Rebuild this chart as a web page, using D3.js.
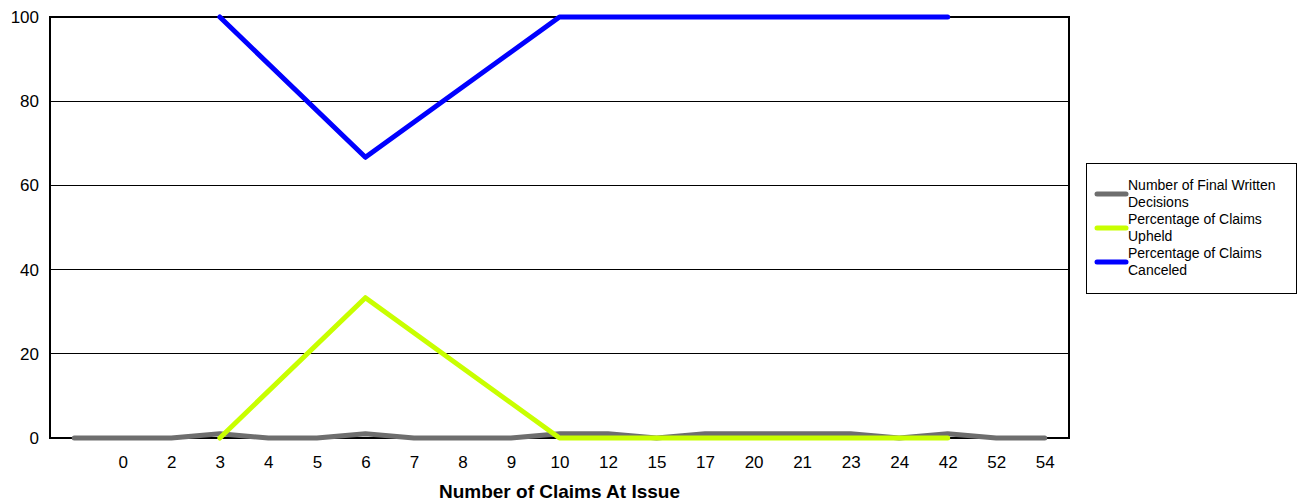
<!DOCTYPE html>
<html>
<head>
<meta charset="utf-8">
<script src="https://cdn.jsdelivr.net/npm/d3@7"></script>
<style>
  html, body { margin: 0; padding: 0; background: #fff; }
  svg { display: block; font-family: "Liberation Sans", Arial, sans-serif; }
</style>
</head>
<body>
<svg id="chart" width="1298" height="502"></svg>
<script>
// ---- data ----
const categories = ["", "0", "2", "3", "4", "5", "6", "7", "8", "9", "10", "12", "15", "17", "20", "21", "23", "24", "42", "52", "54"];
const finalDecisions = [0, 0, 0, 1, 0, 0, 1, 0, 0, 0, 1, 1, 0, 1, 1, 1, 1, 0, 1, 0, 0];
const pctUpheld = [null, null, null, 0, null, null, 33.33, null, null, null, 0, 0, null, 0, 0, 0, 0, null, 0, null, null];
const pctCanceled = [null, null, null, 100, null, null, 66.67, null, null, null, 100, 100, null, 100, 100, 100, 100, null, 100, null, null];
const yTicks = [0, 20, 40, 60, 80, 100];
const seriesNames = ["Number of Final Written|Decisions", "Percentage of Claims|Upheld", "Percentage of Claims|Canceled"];
const seriesColors = ["#6e6e6e", "#c8ff00", "#0000ff"];
const xTitle = "Number of Claims At Issue";

// ---- layout ----
const L = 50, R = 1069, T = 17, B = 438;
const svg = d3.select("#chart");

const x = d3.scalePoint().domain(categories).range([L, R]).padding(0.5);
const y = d3.scaleLinear().domain([0, 100]).range([B, T]);

// gridlines
svg.append("g").selectAll("line").data(yTicks.filter(d => d > 0 && d < 100)).join("line")
  .attr("x1", L).attr("x2", R).attr("y1", d => y(d)).attr("y2", d => y(d))
  .attr("stroke", "#000").attr("stroke-width", 1).attr("shape-rendering", "crispEdges");

// frame
svg.append("rect").attr("x", L).attr("y", T).attr("width", R - L).attr("height", B - T)
  .attr("fill", "none").attr("stroke", "#000").attr("stroke-width", 1.5).attr("shape-rendering", "crispEdges");

// y axis labels
const yAxis = d3.axisLeft(y).tickValues(yTicks).tickSize(0).tickPadding(11);
const gy = svg.append("g").attr("transform", `translate(${L},0)`).call(yAxis);
gy.select(".domain").remove();
gy.selectAll("text").attr("font-size", 17).attr("fill", "#000").attr("font-family", "Liberation Sans, Arial, sans-serif");

// x axis labels
const xAxis = d3.axisBottom(x).tickSize(0).tickPadding(18);
const gx = svg.append("g").attr("transform", `translate(0,${B})`).call(xAxis);
gx.select(".domain").remove();
gx.selectAll("text").attr("font-size", 17).attr("fill", "#000").attr("font-family", "Liberation Sans, Arial, sans-serif");

// x title
svg.append("text").attr("x", (L + R) / 2).attr("y", 498).attr("text-anchor", "middle")
  .attr("font-size", 19).attr("font-weight", "bold").text(xTitle);

// lines
const allSeries = [finalDecisions, pctUpheld, pctCanceled];
const line = d3.line().x(d => x(d.c)).y(d => y(d.v));
allSeries.forEach((vals, i) => {
  const pts = categories.map((c, j) => ({ c, v: vals[j] })).filter(d => d.v !== null);
  svg.append("path").datum(pts).attr("d", line)
    .attr("fill", "none").attr("stroke", seriesColors[i]).attr("stroke-width", 5)
    .attr("stroke-linejoin", "round").attr("stroke-linecap", "round");
});

// legend
const lg = svg.append("g");
lg.append("rect").attr("x", 1086).attr("y", 163).attr("width", 210).attr("height", 130)
  .attr("fill", "#fff").attr("stroke", "#000").attr("stroke-width", 1).attr("shape-rendering", "crispEdges");
const legY = [194, 228, 262];
seriesNames.forEach((name, i) => {
  lg.append("line").attr("x1", 1097).attr("x2", 1126).attr("y1", legY[i]).attr("y2", legY[i])
    .attr("stroke", seriesColors[i]).attr("stroke-width", 5).attr("stroke-linecap", "round");
  const parts = name.split("|");
  const t = lg.append("text").attr("x", 1128).attr("y", legY[i] - 4).attr("font-size", 14).attr("fill", "#000");
  parts.forEach((p, k) => {
    t.append("tspan").attr("x", 1128).attr("dy", k === 0 ? 0 : 16.5).text(p);
  });
});
</script>
</body>
</html>
